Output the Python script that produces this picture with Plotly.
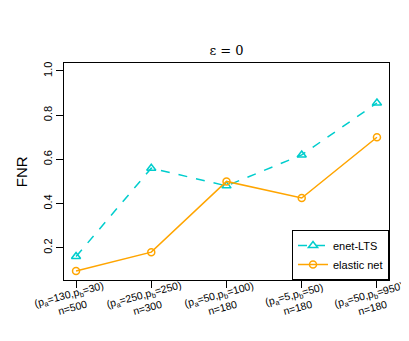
import plotly.graph_objects as go

categories = [1, 2, 3, 4, 5]
tick_labels = [
    "(p<sub>a</sub>=130,p<sub>b</sub>=30)<br>n=500",
    "(p<sub>a</sub>=250,p<sub>b</sub>=250)<br>n=300",
    "(p<sub>a</sub>=50,p<sub>b</sub>=100)<br>n=180",
    "(p<sub>a</sub>=5,p<sub>b</sub>=50)<br>n=180",
    "(p<sub>a</sub>=50,p<sub>b</sub>=950)<br>n=180",
]
enet_lts = [0.16, 0.56, 0.48, 0.62, 0.855]
elastic_net = [0.095, 0.18, 0.50, 0.425, 0.70]

CYAN = "#00CDCD"
ORANGE = "#FFA500"
FONT = "Liberation Sans, Arial, sans-serif"

fig = go.Figure()
fig.add_trace(go.Scatter(
    x=categories, y=enet_lts, name="enet-LTS", mode="lines+markers",
    line=dict(color=CYAN, width=1.5, dash="dash"),
    marker=dict(symbol="triangle-up-open", size=8, color=CYAN, line=dict(width=1.5, color=CYAN)),
))
fig.add_trace(go.Scatter(
    x=categories, y=elastic_net, name="elastic net", mode="lines+markers",
    line=dict(color=ORANGE, width=1.5),
    marker=dict(symbol="circle-open", size=7, color=ORANGE, line=dict(width=1.5, color=ORANGE)),
))

annotations = []
for c, lab in zip(categories, tick_labels):
    annotations.append(dict(
        x=c, xref="x", y=-0.095, yref="paper", text=lab, showarrow=False,
        textangle=-15, xanchor="center", yanchor="middle", xshift=-6,
        font=dict(family=FONT, size=10.5, color="black"),
    ))
annotations.append(dict(
    x=-0.13, xref="paper", y=0.5, yref="paper", text="FNR", showarrow=False,
    textangle=-90, xanchor="center", yanchor="middle",
    font=dict(family=FONT, size=15, color="black"),
))

fig.update_layout(
    width=409, height=341,
    margin=dict(l=56, r=28, t=55, b=69),
    paper_bgcolor="white", plot_bgcolor="white",
    title=dict(text="ε = 0", x=0.5, xref="paper", xanchor="center",
               y=1 - 42 / 341, yref="container", yanchor="middle",
               font=dict(family="DejaVu Serif, serif", size=13, color="black")),
    font=dict(family=FONT, size=11, color="black"),
    showlegend=True,
    legend=dict(x=1, y=0, xanchor="right", yanchor="bottom",
                bordercolor="black", borderwidth=1, bgcolor="white",
                font=dict(family=FONT, size=11), tracegroupgap=0,
                itemwidth=30),
    annotations=annotations,
)
fig.update_xaxes(
    range=[0.84, 5.16], tickvals=categories, ticktext=[""] * 5,
    ticks="outside", ticklen=7, tickcolor="black",
    showline=True, linecolor="black", linewidth=1, mirror=True,
    showgrid=False, zeroline=False,
)
fig.update_yaxes(
    range=[0.054, 1.036], tickvals=[0.2, 0.4, 0.6, 0.8, 1.0],
    ticktext=["0.2", "0.4", "0.6", "0.8", "1.0"], tickangle=-90,
    ticks="outside", ticklen=7, tickcolor="black",
    tickfont=dict(family=FONT, size=11, color="black"),
    showline=True, linecolor="black", linewidth=1, mirror=True,
    showgrid=False, zeroline=False,
)

fig.write_html("out.html")
